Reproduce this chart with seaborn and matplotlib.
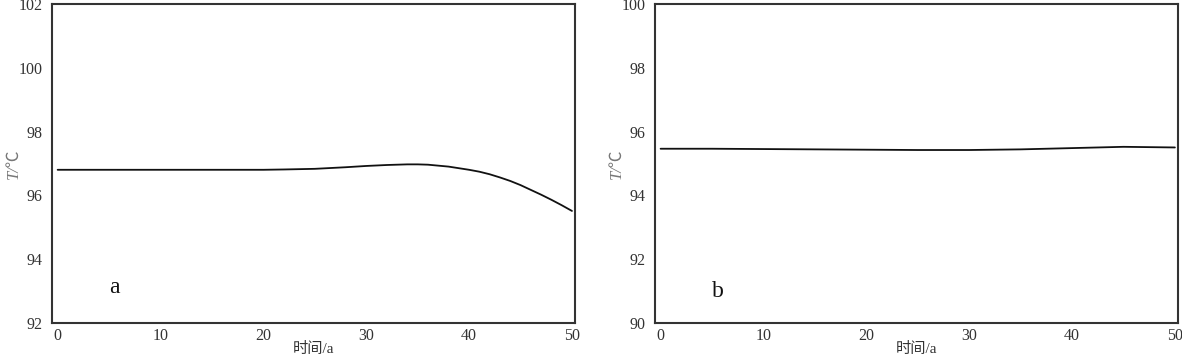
import matplotlib
matplotlib.use("Agg")
import matplotlib.pyplot as plt
import seaborn as sns
import pandas as pd

years_a = [0, 5, 10, 15, 20, 22, 25, 28, 30, 32, 34, 35, 36, 38, 40, 41, 42, 43,
           44, 45, 46, 47, 48, 49, 50]
temp_a = [96.8, 96.8, 96.8, 96.8, 96.8, 96.81, 96.83, 96.88, 96.92, 96.95, 96.97,
          96.97, 96.96, 96.9, 96.8, 96.74, 96.66, 96.56, 96.45, 96.32, 96.17,
          96.02, 95.86, 95.69, 95.51]
years_b = [0, 5, 10, 15, 20, 25, 30, 35, 40, 45, 50]
temp_b = [95.46, 95.46, 95.45, 95.44, 95.43, 95.42, 95.42, 95.44, 95.48, 95.52, 95.5]
xticks = [0, 10, 20, 30, 40, 50]
yticks_a = [92, 94, 96, 98, 100, 102]
yticks_b = [90, 92, 94, 96, 98, 100]
panel_labels = ["a", "b"]
xlabel = "时间/a"
ylabel = "T/℃"

sns.set_theme(style="white")
plt.rcParams['font.family'] = ['Liberation Serif', 'Noto Sans CJK SC', 'DejaVu Sans']

fig = plt.figure(figsize=(11.82, 3.58), dpi=100)
ax1 = fig.add_axes([0.044, 0.098, 0.4425, 0.8911])
ax2 = fig.add_axes([0.5541, 0.098, 0.4425, 0.8911])

df_a = pd.DataFrame({"t": years_a, "T": temp_a})
df_b = pd.DataFrame({"t": years_b, "T": temp_b})

specs = [(ax1, df_a, yticks_a, panel_labels[0], 93.1),
         (ax2, df_b, yticks_b, panel_labels[1], 91.0)]
for ax, df, yt, lab, ly in specs:
    sns.lineplot(data=df, x="t", y="T", ax=ax, color="#111111", linewidth=1.3)
    ax.set_xlim(-0.55, 50.3)
    ax.set_ylim(yt[0], yt[-1])
    ax.set_xticks(xticks)
    ax.set_yticks(yt)
    ax.tick_params(direction="in", length=4, width=1.2, colors="#333333",
                   labelsize=11.5, labelcolor="#333333")
    ax.tick_params(axis="y", pad=7)
    ax.tick_params(axis="x", pad=4)
    for s in ax.spines.values():
        s.set_color("#333333")
        s.set_linewidth(1.5)
    ax.set_xlabel(xlabel, fontsize=11, color="#333333", labelpad=-2)
    ax.set_ylabel(ylabel, fontsize=12, color="#777777", fontstyle="italic",
                  va="center")
    ax.yaxis.set_label_coords(-0.073, 0.5)
    ax.text(5, ly, lab, fontsize=17, color="#111111", ha="left", va="center")

fig.savefig("out.png", dpi=100)
